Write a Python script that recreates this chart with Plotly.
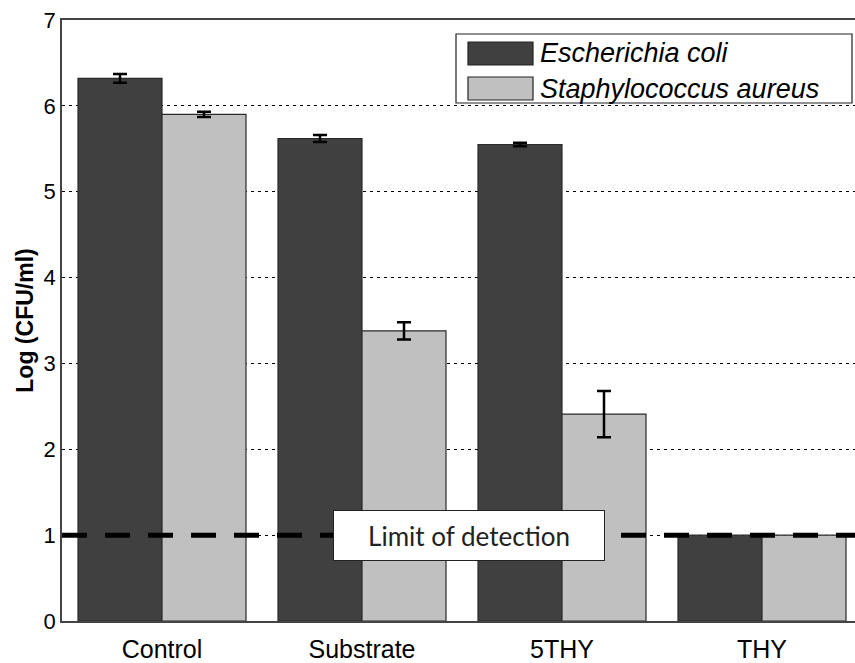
import plotly.graph_objects as go

categories = ["Control", "Substrate", "5THY", "THY"]
ecoli = [6.32, 5.62, 5.55, 1.0]
ecoli_err = [0.05, 0.04, 0.02, 0.0]
saureus = [5.90, 3.38, 2.41, 1.0]
saureus_err = [0.03, 0.10, 0.27, 0.0]
series_names = ["Escherichia coli", "Staphylococcus aureus"]
y_ticks = [0, 1, 2, 3, 4, 5, 6, 7]
lod_value = 1.0

W, H = 855, 663
L, R, T, B = 62, 0, 20, 42
pw, ph = W - L - R, H - T - B

def px(x):
    return (x - L) / pw

def py(y):
    return (H - B - y) / ph

dark = "#404040"
light = "#c0c0c0"
edge = "#2a2a2a"

fig = go.Figure()
fig.add_trace(go.Bar(
    x=categories, y=ecoli, name=series_names[0],
    marker=dict(color=dark, line=dict(color=edge, width=1.2)),
    error_y=dict(type="data", array=ecoli_err, color="black", thickness=2.5, width=7,
                 visible=True),
    showlegend=False,
))
fig.add_trace(go.Bar(
    x=categories, y=saureus, name=series_names[1],
    marker=dict(color=light, line=dict(color=edge, width=1.2)),
    error_y=dict(type="data", array=saureus_err, color="black", thickness=2.5, width=7,
                 visible=True),
    showlegend=False,
))

# Limit of detection dashed line
fig.add_shape(type="line", xref="paper", yref="y", x0=0, x1=1, y0=lod_value, y1=lod_value,
              line=dict(color="black", width=5, dash="25px,18px"), layer="above")

fig.add_annotation(x=1.535, y=lod_value, xref="x", yref="y", text="Limit of detection",
                   showarrow=False, font=dict(family="Lato", size=26, color="#222222"),
                   bgcolor="white", bordercolor="#222222", borderwidth=1,
                   width=268, height=47, borderpad=1)

# Custom legend
fig.add_shape(type="rect", xref="paper", yref="paper",
              x0=px(456), x1=px(852), y0=py(34), y1=py(103),
              line=dict(color="#222222", width=1.2), fillcolor="white", layer="above")
swatches = [(dark, 42, 65), (light, 77, 100)]
for (col, y0, y1), name in zip(swatches, series_names):
    fig.add_shape(type="rect", xref="paper", yref="paper",
                  x0=px(468), x1=px(533), y0=py(y0), y1=py(y1),
                  line=dict(color="#222222", width=1.2), fillcolor=col, layer="above")
    fig.add_annotation(x=px(538), y=py((y0 + y1) / 2), xref="paper", yref="paper",
                       text="<i>" + name + "</i>", showarrow=False, xanchor="left",
                       yanchor="middle",
                       font=dict(family="Liberation Sans", size=27, color="black"))

fig.update_layout(
    width=W, height=H,
    margin=dict(l=L, r=R, t=T, b=B),
    paper_bgcolor="white", plot_bgcolor="white",
    barmode="group", bargap=0.16, bargroupgap=0.0,
    showlegend=False,
    font=dict(family="Liberation Sans", size=20, color="black"),
)
fig.update_xaxes(
    range=[-0.5, -0.5 + pw / 200.0],
    showline=True, linecolor="#444444", linewidth=1.5, mirror=True,
    ticks="", showgrid=False, zeroline=False,
    ticklabelstandoff=5, automargin=False,
    tickfont=dict(family="Liberation Sans", size=25),
)
fig.update_yaxes(
    range=[0, 7], tickvals=y_ticks,
    showline=True, linecolor="#444444", linewidth=1.5,
    ticks="", ticklen=0,
    showgrid=True, gridcolor="black", gridwidth=1, griddash="3px,4px",
    zeroline=False, automargin=False,
    tickfont=dict(family="Liberation Sans", size=22),
    title=dict(text="<b>Log (CFU/ml)</b>", font=dict(family="Liberation Sans", size=23),
               standoff=4),
)

fig.write_html("out.html")
